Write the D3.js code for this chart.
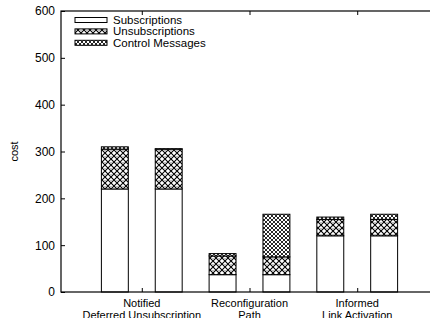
<!DOCTYPE html>
<html>
<head>
<meta charset="utf-8">
<script src="https://cdn.jsdelivr.net/npm/d3@7"></script>
<style>
  body { margin: 0; background: #fff; }
  text { font-family: "Liberation Sans", Arial, sans-serif; fill: #000; }
</style>
</head>
<body>
<div id="chart"></div>
<script>
// groups along the x axis, two bars each
const groups = [["Notified", "Deferred Unsubscription"], ["Reconfiguration", "Path"], ["Informed", "Link Activation"]];
const seriesNames = ["Subscriptions", "Unsubscriptions", "Control Messages"];
const yTicks = [0, 100, 200, 300, 400, 500, 600];

// one entry per bar, left to right
const barGroup = [1, 1, 2, 2, 3, 3];
const barSide = [-1, 1, -1, 1, -1, 1];
const subscriptions = [220, 220, 37, 37, 120, 120];
const unsubscriptions = [85, 85, 40, 38, 35, 35];
const controlMessages = [5, 1, 5, 91, 5, 11];

const W = 430, H = 318;
const margin = { top: 11, left: 61, bottom: 26, right: -8 };
const plotR = W - margin.right, plotB = H - margin.bottom;

const svg = d3.select('#chart').append('svg')
  .attr('width', W)
  .attr('height', H);

const defs = svg.append('defs');
const p1 = defs.append('pattern')
  .attr('id', 'unsub').attr('patternUnits', 'userSpaceOnUse')
  .attr('width', 6).attr('height', 6);
p1.append('rect').attr('width', 6).attr('height', 6).attr('fill', '#fff');
p1.append('path').attr('d', 'M0,0L6,6M6,0L0,6').attr('stroke', '#000').attr('stroke-width', 1.1);
p1.append('rect').attr('x', 2.5).attr('y', -0.5).attr('width', 1).attr('height', 1).attr('fill', '#000');

const p2 = defs.append('pattern')
  .attr('id', 'ctrl').attr('patternUnits', 'userSpaceOnUse')
  .attr('width', 4).attr('height', 4);
p2.append('rect').attr('width', 4).attr('height', 4).attr('fill', '#fff');
p2.append('path').attr('d', 'M0,0L4,4M4,0L0,4').attr('stroke', '#111').attr('stroke-width', 0.9);

const fills = ['#fff', 'url(#unsub)', 'url(#ctrl)'];

const x = d3.scaleLinear().domain([0.25, 3.75]).range([margin.left, plotR]);
const y = d3.scaleLinear().domain([0, 600]).range([plotB, margin.top]);

const g = svg.append('g');

// bars
const stacks = subscriptions.map((s, i) => {
  const vals = [s, unsubscriptions[i], controlMessages[i]];
  let base = 0;
  return vals.map((v, k) => {
    const seg = { i, k, y0: base, y1: base + v };
    base += v;
    return seg;
  });
}).flat();

g.selectAll('.seg')
  .data(stacks)
  .join('rect')
  .attr('class', 'seg')
  .attr('x', d => x(barGroup[d.i] + barSide[d.i] * 0.25 - 0.125))
  .attr('width', d => x(0.5) - x(0.25))
  .attr('y', d => y(d.y1))
  .attr('height', d => y(d.y0) - y(d.y1))
  .attr('fill', d => fills[d.k])
  .attr('stroke', '#000')
  .attr('stroke-width', 1);

// axes with inward ticks
const yAxis = g.append('g')
  .attr('transform', `translate(${margin.left},0)`)
  .call(d3.axisLeft(y).tickValues(yTicks).tickSize(-4).tickPadding(6));
g.append('g')
  .attr('transform', `translate(${plotR},0)`)
  .call(d3.axisRight(y).tickValues(yTicks).tickSize(-4).tickFormat(''));
g.append('g')
  .attr('transform', `translate(0,${plotB})`)
  .call(d3.axisBottom(x).tickValues([1, 2, 3]).tickSize(-4).tickFormat(''));
g.append('g')
  .attr('transform', `translate(0,${margin.top})`)
  .call(d3.axisTop(x).tickValues([1, 2, 3]).tickSize(-4).tickFormat(''));

g.selectAll('.domain').remove();
g.selectAll('.tick line').attr('stroke', '#000');
yAxis.selectAll('text').style('font-size', '12px').attr('fill', '#000');

groups.forEach((lines, i) => {
  const t = g.append('text')
    .attr('text-anchor', 'middle')
    .style('font-size', '11px');
  lines.forEach((ln, j) => {
    t.append('tspan').attr('x', x(i + 1)).attr('y', plotB + 15 + j * 12).text(ln);
  });
});

// frame
g.append('rect')
  .attr('x', margin.left).attr('y', margin.top)
  .attr('width', plotR - margin.left).attr('height', plotB - margin.top)
  .attr('fill', 'none').attr('stroke', '#000').attr('stroke-width', 1.2);

svg.append('text')
  .attr('transform', `translate(18,${(margin.top + plotB) / 2}) rotate(-90)`)
  .attr('text-anchor', 'middle')
  .style('font-size', '11px')
  .text('cost');

// legend
const legend = svg.append('g');
seriesNames.forEach((name, k) => {
  const cy = 20 + k * 11.4;
  legend.append('rect')
    .attr('x', 75).attr('y', cy - 2.5)
    .attr('width', 32).attr('height', 5)
    .attr('fill', fills[k]).attr('stroke', '#000').attr('stroke-width', 1);
  legend.append('text')
    .attr('x', 113).attr('y', cy + 4)
    .style('font-size', '11.5px')
    .text(name);
});
</script>
</body>
</html>
